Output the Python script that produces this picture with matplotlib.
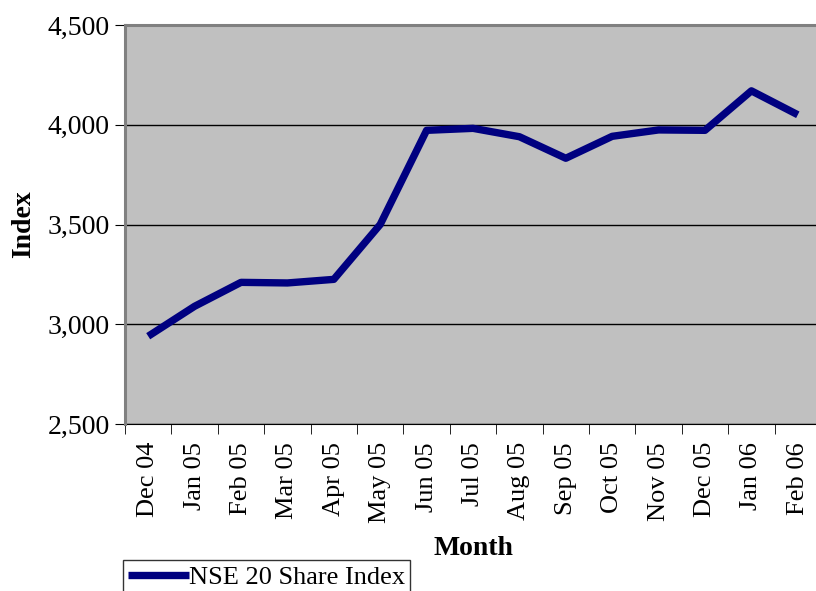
import matplotlib.pyplot as plt

months = ['Dec 04', 'Jan 05', 'Feb 05', 'Mar 05', 'Apr 05', 'May 05', 'Jun 05',
          'Jul 05', 'Aug 05', 'Sep 05', 'Oct 05', 'Nov 05', 'Dec 05', 'Jan 06', 'Feb 06']
nse20 = [2940, 3090, 3210, 3207, 3225, 3500, 3972, 3982, 3940, 3832, 3942,
         3974, 3972, 4170, 4050]
y_ticks = [2500, 3000, 3500, 4000, 4500]

plt.rcParams.update({
    'font.family': 'Liberation Serif',
    'font.size': 20,
})

fig = plt.figure(figsize=(8.16, 5.91), dpi=100)
ax = fig.add_axes([125 / 816, 1 - 424 / 591, 696 / 816, 399 / 591])
ax.set_facecolor('#c0c0c0')

x = list(range(len(months)))
ax.plot(x, nse20, color='#000080', linewidth=5.3, solid_capstyle='butt',
        label='NSE 20 Share Index')

ax.set_xlim(-0.5, len(months) - 0.5)
ax.set_ylim(2500, 4500)
ax.set_yticks(y_ticks)
ax.set_yticklabels([f'{v:,}' for v in y_ticks])
ax.yaxis.grid(True, color='black', linewidth=1)
ax.set_axisbelow(True)

ax.set_xticks(x)
ax.set_xticklabels(months, rotation=90, fontsize=19)
ax.set_xticks([i - 0.5 for i in range(len(months) + 1)], minor=True)
ax.tick_params(axis='x', which='major', length=0, pad=13)
ax.tick_params(axis='x', which='minor', length=7, direction='out')
ax.tick_params(axis='y', length=7, direction='out', pad=4)

ax.spines['right'].set_visible(False)
for side in ['top', 'left']:
    ax.spines[side].set_color('#808080')
    ax.spines[side].set_linewidth(2.2)
    ax.spines[side].set_zorder(3)
ax.spines['bottom'].set_color('black')

ax.set_ylabel('Index', fontweight='bold', labelpad=8)
ax.set_xlabel('Month', fontweight='bold', labelpad=9)

fig.legend(loc='upper left', bbox_to_anchor=(123 / 816, 1 - 560 / 591),
           frameon=True, fancybox=False, edgecolor='black', handlelength=2.3,
           borderpad=0.2, handletextpad=0.0, borderaxespad=0, fontsize=19)

fig.savefig('out.png', dpi=100)
